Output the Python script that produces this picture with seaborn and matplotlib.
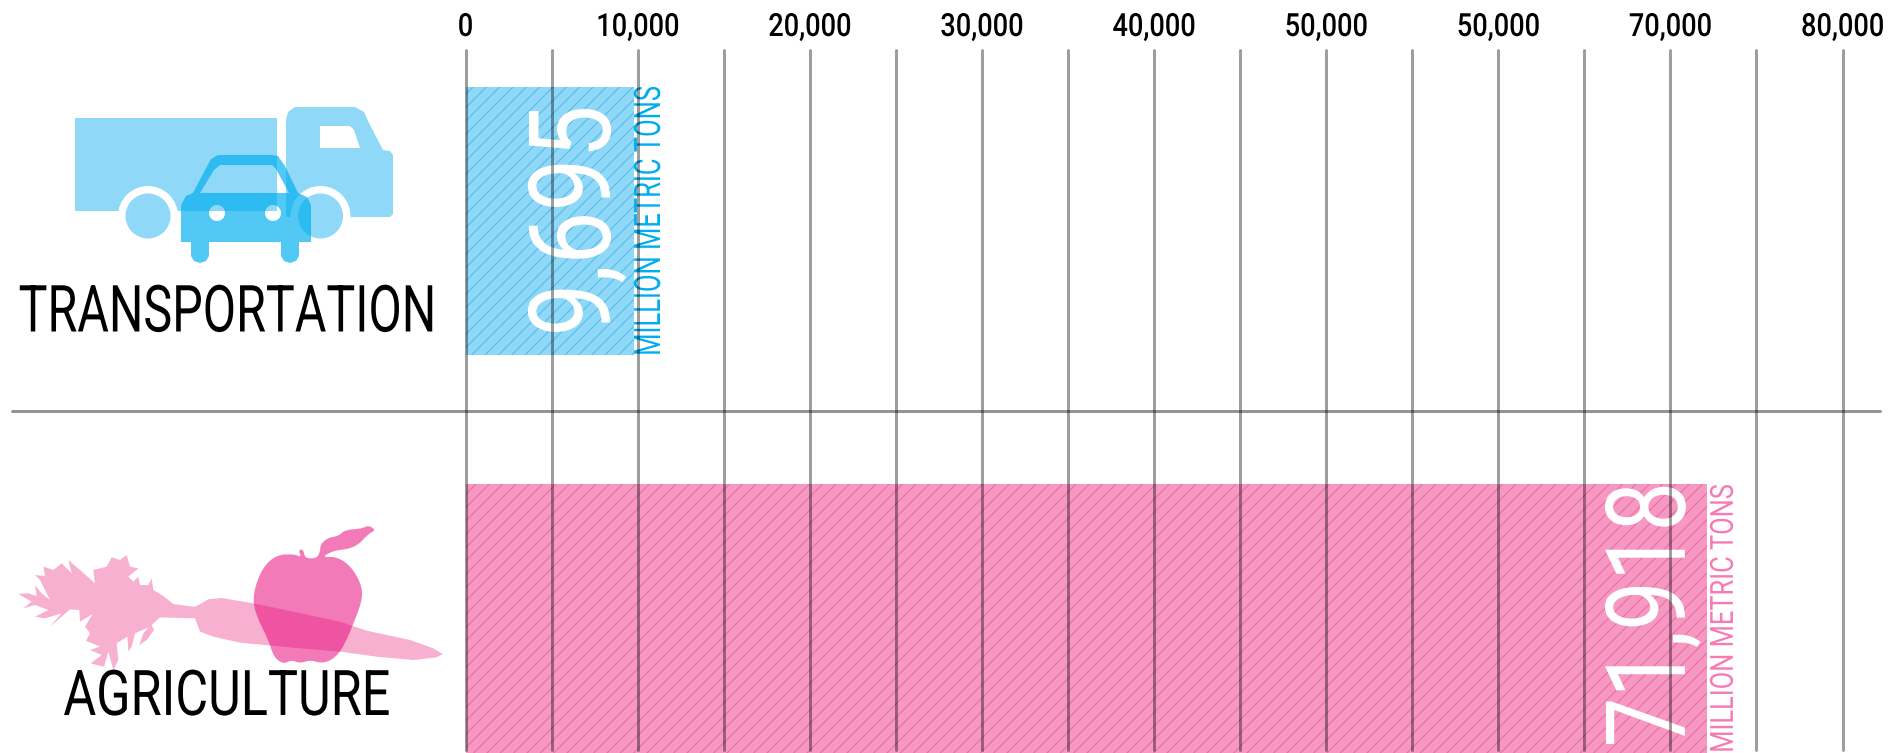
import numpy as np
import matplotlib
matplotlib.use("Agg")
import matplotlib.pyplot as plt
import seaborn as sns
from matplotlib.patches import Circle, Polygon, PathPatch
from matplotlib.patheffects import AbstractPathEffect
from matplotlib.path import Path
from matplotlib.transforms import Affine2D

# chart data
categories = ["Transportation", "Agriculture"]
bar_lengths = [9790, 72150]  # bar ends as measured against the gridlines
bar_labels = ["9,695", "71,918"]
tick_values = [0, 10000, 20000, 30000, 40000, 50000, 60000, 70000, 80000]
tick_labels = ["0", "10,000", "20,000", "30,000", "40,000", "50,000", "50,000", "70,000", "80,000"]
minor_values = [5000, 15000, 25000, 35000, 45000, 55000, 65000, 75000]

BLUE = "#00aeef"
PINK = "#f57ab5"
W, H, DPI = 1891, 753, 80  # dpi 80 gives the hatch spacing of the original


def pt(px):
    return px * 72 / DPI


class Squeeze(AbstractPathEffect):
    # narrows a text around its own centre, no condensed face is installed
    def __init__(self, sx):
        super().__init__()
        self.sx = sx

    def draw_path(self, renderer, gc, tpath, affine, rgbFace=None):
        box = tpath.get_extents()
        cx = (box.x0 + box.x1) / 2
        squeeze = Affine2D().translate(-cx, 0).scale(self.sx, 1).translate(cx, 0)
        renderer.draw_path(gc, tpath, squeeze + affine, rgbFace)


sns.set_theme(style="white")
plt.rcParams["font.family"] = ["Roboto", "DejaVu Sans"]
plt.rcParams["hatch.linewidth"] = 1.0

fig = plt.figure(figsize=(W / DPI, H / DPI), dpi=DPI)
ax = fig.add_axes([465.5 / W, 1 - 750 / H, 1377 / W, 700 / H])

sns.barplot(x=bar_lengths, y=categories, hue=categories, palette=["#8fd8f8", "#f798c2"],
            orient="h", width=0.675, saturation=1, legend=False, ax=ax)
for patch, hatch_color in zip(ax.patches, ["#55bdec", "#ea6ea8"]):
    patch.set_hatch("//")
    patch.set_edgecolor(hatch_color)
    patch.set_linewidth(0)
    patch.set_clip_on(False)

ax.set_xlim(0, 80000)
ax.set_ylim(1.331, -0.430)
ax.set_xticks(tick_values)
ax.set_xticklabels(tick_labels, fontsize=pt(32), color="black", fontweight="medium")
ax.set_xticks(minor_values, minor=True)
ax.xaxis.tick_top()
ax.tick_params(axis="x", which="both", length=0, pad=pt(8))
ax.tick_params(axis="y", left=False, labelleft=False)
ax.set_xlabel("")
ax.set_ylabel("")
for label in ax.get_xticklabels():
    label.set_path_effects([Squeeze(0.85)])
ax.set_axisbelow(False)
ax.grid(True, axis="x", which="both", color="black", alpha=0.38, linewidth=pt(3))
for tick in ax.xaxis.get_major_ticks() + ax.xaxis.get_minor_ticks():
    tick.gridline.set_clip_on(False)
sns.despine(ax=ax, left=True, bottom=True, top=True, right=True)

# divider between the two sectors
ax.axhline(0.478, xmin=-0.329, xmax=1.027, color="black", alpha=0.42, linewidth=pt(3), clip_on=False)

# big numbers and units next to the bar ends
for i, (length, label, num_size, num_sx, unit_color, unit_size, unit_sx, num_dx, num_dy, unit_dx) in enumerate(
        zip(bar_lengths, bar_labels, [114, 111], [0.83, 0.795], [BLUE, PINK], [36.5, 32], [0.70, 0.795],
            [-55, -53], [0, 4], [16, 17])):
    t = ax.annotate(label, (length, i), xytext=(num_dx, num_dy), textcoords="offset pixels",
                    rotation=90, ha="center", va="center", fontsize=pt(num_size), color="white",
                    annotation_clip=False, zorder=2)
    t.set_path_effects([Squeeze(num_sx)])
    t = ax.annotate("MILLION METRIC TONS", (length, i), xytext=(unit_dx, 0), textcoords="offset pixels",
                    rotation=90, ha="center", va="center", fontsize=pt(unit_size), color=unit_color,
                    annotation_clip=False, zorder=2)
    t.set_path_effects([Squeeze(unit_sx)])

# icons are drawn in a pixel overlay
ov = fig.add_axes([0, 0, 1, 1], zorder=-1)
ov.set_xlim(0, W)
ov.set_ylim(H, 0)
ov.axis("off")


def ring(cx, cy, r):
    t = np.linspace(0, 2 * np.pi, 40)
    return np.column_stack([cx + r * np.cos(t), cy + r * np.sin(t)])


def chaikin(pts, rounds=2):
    pts = np.array(pts, dtype=float)
    for _ in range(rounds):
        nxt = np.roll(pts, -1, axis=0)
        pts = np.column_stack([0.75 * pts + 0.25 * nxt, 0.25 * pts + 0.75 * nxt]).reshape(-1, 2)
    return pts


TRUCK = "#8fd8f8"
ov.add_patch(Polygon([(75, 118), (277, 118), (277, 211), (75, 211)], fc=TRUCK, ec="none"))
ov.add_patch(Polygon([(286, 120), (288, 112), (295, 107), (355, 107), (364, 112), (369, 123), (383, 150),
                      (390, 151), (393, 155), (393, 214), (390, 217), (340, 217), (286, 217)],
                     fc=TRUCK, ec="none"))
ov.add_patch(Polygon([(320, 126), (350, 126), (354, 130), (360, 148), (320, 148)], fc="white", ec="none"))
for cx in [148, 320.5]:
    ov.add_patch(Circle((cx, 216), 30, fc="white", ec="none"))
    ov.add_patch(Circle((cx, 216), 22.5, fc=TRUCK, ec="none"))

# car body with roof ring and headlight holes cut out
car_outer = [(181, 242), (191, 242), (191, 256), (194, 261), (200, 263), (206, 261), (209, 256), (209, 242),
             (281, 242), (281, 256), (284, 261), (290, 263), (296, 261), (299, 256), (299, 242),
             (311, 242), (311, 205), (307, 197), (298, 193), (285, 166), (278, 156), (272, 155),
             (218, 155), (211, 159), (204, 172), (193, 193), (186, 196), (181, 205), (181, 242)]
car_window = [(200, 193), (214, 170), (220, 165), (272, 165), (276, 169), (289, 193), (200, 193)]
verts = [np.array(car_outer), np.array(car_window), ring(217, 213, 8), ring(273, 213, 8)]
car_path = Path.make_compound_path(*[Path(v, closed=True) for v in verts])
ov.add_patch(PathPatch(car_path, fc=BLUE, ec="none", alpha=0.68))

# carrot and apple, traced in 3x zoom units
carrot = [(590, 408), (625, 388), (665, 384), (760, 400), (880, 425), (1020, 455), (1100, 482), (1230, 510),
          (1300, 535), (1328, 552), (1310, 562), (1240, 570), (1130, 560), (1020, 545), (900, 535), (720, 518),
          (640, 500), (600, 485), (585, 445), (480, 442), (455, 465), (462, 480), (440, 510), (418, 525),
          (430, 490), (445, 472), (405, 490), (395, 530), (385, 545), (382, 500), (350, 520), (355, 570),
          (340, 600), (325, 545), (312, 590), (290, 585), (272, 580), (305, 555), (270, 540), (300, 530),
          (258, 512), (270, 490), (255, 470), (278, 432), (240, 455), (238, 420), (210, 418), (150, 470),
          (185, 430), (135, 445), (105, 440), (145, 420), (105, 405), (70, 415), (95, 395), (55, 372),
          (85, 370), (110, 378), (105, 345), (125, 370), (150, 390), (120, 330), (105, 315), (135, 318),
          (130, 290), (160, 300), (185, 280), (215, 310), (205, 270), (240, 300), (285, 340), (280, 300),
          (320, 290), (335, 262), (360, 270), (380, 255), (390, 290), (415, 295), (385, 320), (400, 335),
          (415, 320), (420, 345), (445, 345), (455, 325), (460, 360), (490, 378), (520, 402), (580, 410)]
apple = [(765, 350), (790, 290), (830, 255), (880, 252), (905, 262), (895, 240), (910, 238), (915, 265),
         (950, 265), (960, 245), (962, 222), (985, 203), (1015, 198), (1035, 180), (1085, 176), (1105, 166),
         (1128, 180), (1105, 192), (1075, 224), (1045, 237), (1000, 242), (965, 262), (1010, 260), (1052, 288),
         (1083, 340), (1088, 385), (1065, 450), (1030, 532), (1000, 568), (965, 580), (930, 570), (900, 580),
         (875, 570), (850, 582), (822, 562), (805, 510), (775, 450), (759, 400)]


def from_zoom(pts):
    pts = np.array(pts, dtype=float)
    return np.column_stack([pts[:, 0] / 3, 470 + pts[:, 1] / 3])


ov.add_patch(Polygon(from_zoom(carrot), fc="#f7b0d0", ec="none"))
ov.add_patch(Polygon(chaikin(from_zoom(apple)), fc="#e90078", ec="none", alpha=0.52))

t = ov.text(228, 313.5, "TRANSPORTATION", ha="center", va="center", fontsize=pt(65), color="black")
t.set_path_effects([Squeeze(0.745)])
t = ov.text(227, 698, "AGRICULTURE", ha="center", va="center", fontsize=pt(63), color="black")
t.set_path_effects([Squeeze(0.80)])

fig.savefig("out.png", dpi=DPI)
